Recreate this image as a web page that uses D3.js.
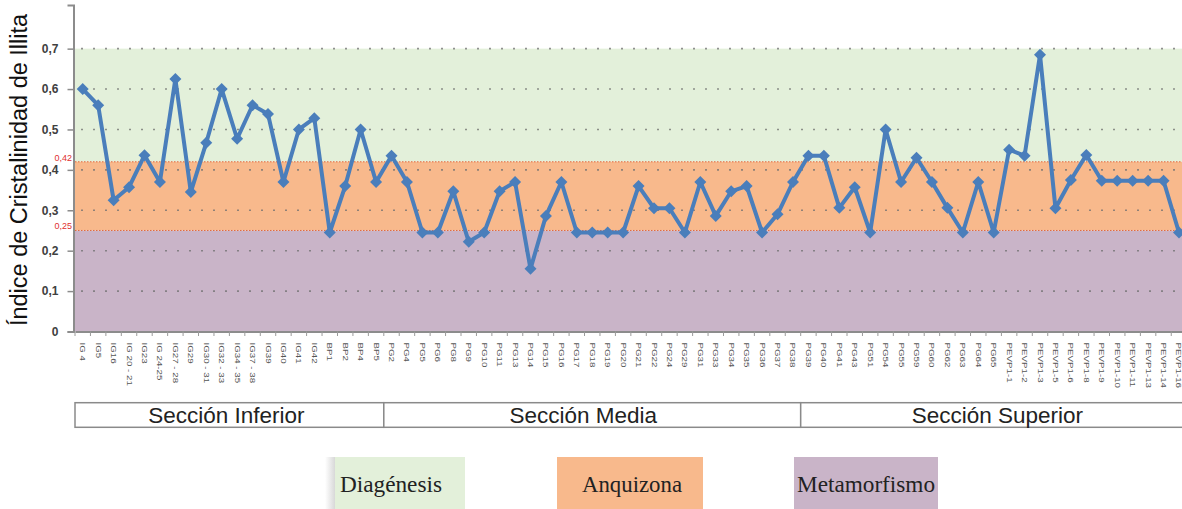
<!DOCTYPE html>
<html><head><meta charset="utf-8">
<script src="https://cdn.jsdelivr.net/npm/d3@7"></script>
<style>body{margin:0;background:#fff}svg{display:block}</style>
</head><body>
<svg id="c" width="1182" height="509"></svg>
<script>
const categories = ["IG 4","IG5","IG16","IG 20 - 21","IG23","IG 24-25","IG27 - 28","IG29","IG30 - 31","IG32 - 33","IG34 - 35","IG37 - 38","IG39","IG40","IG41","IG42","BP1","BP2","BP4","BP5",
"PG2","PG4","PG5","PG6","PG8","PG9","PG10","PG11","PG13","PG14","PG15","PG16","PG17","PG18","PG19","PG20","PG21","PG22","PG24","PG29","PG31","PG33","PG34","PG35","PG36","PG37","PG38",
"PG39","PG40","PG41","PG43","PG51","PG54","PG55","PG59","PG60","PG62","PG63","PG64","PG65","PEVP1-1","PEVP1-2","PEVP1-3","PEVP1-5","PEVP1-6","PEVP1-8","PEVP1-9","PEVP1-10","PEVP1-11","PEVP1-13","PEVP1-14","PEVP1-16"];
const values = [0.60,0.56,0.325,0.357,0.436,0.37,0.625,0.345,0.467,0.60,0.477,0.56,0.538,0.37,0.50,0.528,0.245,0.36,0.50,0.37,
0.435,0.37,0.245,0.245,0.347,0.222,0.245,0.347,0.37,0.155,0.286,0.37,0.245,0.245,0.245,0.245,0.36,0.305,0.305,0.245,0.37,0.286,0.347,0.36,0.245,0.29,0.37,
0.435,0.435,0.306,0.357,0.245,0.50,0.37,0.43,0.37,0.306,0.245,0.37,0.245,0.45,0.435,0.685,0.305,0.375,0.437,0.373,0.373,0.373,0.373,0.373,0.245];
const yTicks = [0,0.1,0.2,0.3,0.4,0.5,0.6,0.7];
const thresholds = [0.42,0.25];
const zoneNames = ["Diagénesis","Anquizona","Metamorfismo"];
const zoneLo = [0.42,0.25,0];
const zoneHi = [0.7,0.42,0.25];
const zoneColors = ["#e3f0da","#f8b98c","#c9b4c8"];
const sectionNames = ["Sección Inferior","Sección Media","Sección Superior"];
const sectionFirst = ["IG 4","PG2","PG39"];
const sectionLast = ["BP5","PG38","PEVP1-16"];
const yTitle = "Índice de Cristalinidad de Illita";

const svg = d3.select("#c");
const x = d3.scaleBand().domain(categories).range([75, 1186.7]).padding(0);
const y = d3.scaleLinear().domain([0, 0.808]).range([331.5, 5]);
const fmt = v => d3.format(".1f")(v).replace(".", ",").replace(/^0,0$/, "0");
const x0 = x.range()[0], x1 = x.range()[1];

// zones
svg.append("g").selectAll("rect").data(zoneNames).join("rect")
  .attr("x", x0).attr("width", x1 - x0)
  .attr("y", (d,i) => y(zoneHi[i])).attr("height", (d,i) => y(zoneLo[i]) - y(zoneHi[i]))
  .attr("fill", (d,i) => zoneColors[i]);

// gridlines
svg.append("g").selectAll("line").data(yTicks.filter(t => t > 0)).join("line")
  .attr("x1", x0 + 6).attr("x2", x1).attr("y1", d => y(d)).attr("y2", d => y(d))
  .attr("stroke", "#6f6f6f").attr("stroke-width", 1.6).attr("stroke-dasharray", "2,10").attr("opacity", 0.75);

// thresholds
svg.append("g").selectAll("line").data(thresholds).join("line")
  .attr("x1", x0).attr("x2", x1).attr("y1", d => y(d)).attr("y2", d => y(d))
  .attr("stroke", "#e0683c").attr("stroke-width", 1).attr("stroke-dasharray", "1.5,1.5");
svg.append("g").selectAll("text").data(thresholds).join("text")
  .attr("x", 72).attr("y", d => y(d) - 1).attr("text-anchor", "end")
  .attr("font-family", "Liberation Sans, Arial, sans-serif").attr("font-size", 9)
  .attr("fill", "#e03030").text(d => d.toFixed(2).replace(".", ","));

// y axis
const yAxis = svg.append("g").attr("transform", "translate(73.5,0)")
  .call(d3.axisLeft(y).tickValues(yTicks).tickFormat(fmt).tickSize(6).tickPadding(9));
yAxis.select(".domain").attr("stroke", "#8c8c8c").attr("stroke-width", 2);
yAxis.selectAll(".tick line").attr("stroke", "#8c8c8c").attr("stroke-width", 1.5);
yAxis.selectAll(".tick text").attr("font-family", "Liberation Sans, Arial, sans-serif")
  .attr("font-size", 12).attr("font-weight", "bold").attr("fill", "#404040");

// x axis
const xAxis = svg.append("g").attr("transform", "translate(0,331.5)")
  .call(d3.axisBottom(x).tickSize(0).tickSizeOuter(0));
xAxis.select(".domain").attr("stroke", "#8c8c8c").attr("stroke-width", 2);
xAxis.selectAll(".tick text")
  .attr("font-family", "Liberation Sans, Arial, sans-serif").attr("font-size", 7.5).attr("fill", "#555")
  .attr("text-anchor", "start").attr("dy", null).attr("y", 0)
  .attr("transform", "translate(-2.5,11) rotate(90) scale(1.3,1)");
svg.append("g").selectAll("line").data(categories).join("line")
  .attr("x1", d => x(d)).attr("x2", d => x(d)).attr("y1", 331.5).attr("y2", 336)
  .attr("stroke", "#9a9a9a").attr("stroke-width", 1);

// y title
svg.append("text").attr("transform", "translate(27,170) rotate(-90)")
  .attr("text-anchor", "middle").attr("font-family", "Liberation Sans, Arial, sans-serif")
  .attr("font-size", 23.5).attr("fill", "#111").text(yTitle);

// line + markers
const pts = categories.map((c,i) => [x(c) + x.bandwidth()/2, y(values[i])]);
svg.append("path").datum(pts).attr("d", d3.line())
  .attr("fill", "none").attr("stroke", "#4a7ebb").attr("stroke-width", 4).attr("stroke-linejoin", "round");
svg.append("g").selectAll("path").data(pts).join("path")
  .attr("d", d3.symbol(d3.symbolSquare, 72)())
  .attr("transform", d => `translate(${d[0]},${d[1]}) rotate(45)`)
  .attr("fill", "#4a7ebb");

// section boxes
const secShift = [-3, -9, 6];
const sec = svg.append("g");
sectionNames.forEach((n,i) => {
  const a = x(sectionFirst[i]), b = x(sectionLast[i]) + x.bandwidth();
  sec.append("rect").attr("x", a).attr("y", 402.7).attr("width", b - a).attr("height", 24.6)
    .attr("fill", "#fff").attr("stroke", "#8a8a8a").attr("stroke-width", 1.5);
  sec.append("text").attr("x", (a + Math.min(b, 1182)) / 2 + secShift[i]).attr("y", 423)
    .attr("text-anchor", "middle").attr("font-family", "Liberation Sans, Arial, sans-serif")
    .attr("font-size", 22.5).attr("fill", "#222").text(n);
});

// legend
const legX = [335, 557, 794], legW = [130, 146, 144], legTL = [102, 100, 138], legShift = [-9, 2, 0];
const leg = svg.append("g");
const grad = svg.append("defs").append("linearGradient").attr("id", "sh");
grad.append("stop").attr("offset", 0).attr("stop-color", "#fff");
grad.append("stop").attr("offset", 1).attr("stop-color", "#d8d8d8");
leg.append("rect").attr("x", legX[0] - 10).attr("y", 457).attr("width", 10).attr("height", 52).attr("fill", "url(#sh)");
zoneNames.forEach((n,i) => {
  leg.append("rect").attr("x", legX[i]).attr("y", 457).attr("width", legW[i]).attr("height", 52)
    .attr("fill", zoneColors[i]);
  leg.append("text").attr("x", legX[i] + legW[i]/2 + legShift[i]).attr("y", 492).attr("text-anchor", "middle")
    .attr("font-family", "Liberation Serif, Times New Roman, serif").attr("font-size", 24)
    .attr("textLength", legTL[i]).attr("lengthAdjust", "spacingAndGlyphs")
    .attr("fill", "#222").text(n);
});
</script>
</body></html>
